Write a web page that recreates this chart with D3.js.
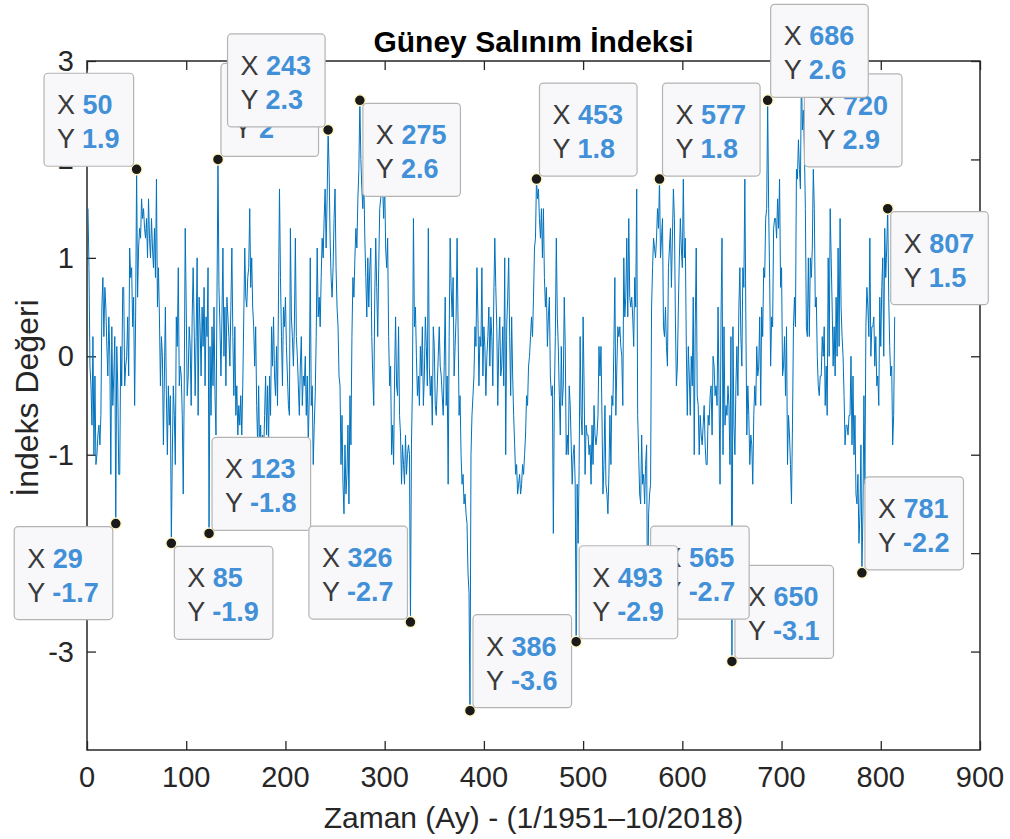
<!DOCTYPE html>
<html>
<head>
<meta charset="utf-8">
<script src="https://cdn.jsdelivr.net/npm/d3@7"></script>
<style>
  body { margin: 0; background: #fff; }
  svg { display: block; font-family: "Liberation Sans", Arial, Helvetica, sans-serif; }
</style>
</head>
<body>
<div id="chart"></div>
<script>
// monthly SOI values, 1/1951 .. 10/2018 (x = 1..814)
var soi = [
  1.5, 0.9, -0.1, -0.3, -0.7, 0.2, -1.0, -0.2, -1.1, -1.0, -0.8, -0.7,   // 1951
  -0.9, -0.6, 0.5, 0.8, 0.2, 0.7, 0.5, 0.1, -0.2, 0.4, 0.0, -1.2,        // 1952
  0.3, -0.5, -0.2, 0.2, -1.7, 0.1, -0.3, -1.2, -1.2, 0.1, -0.3, 0.7,     // 1953
  0.7, -0.3, -0.1, 0.0, 0.4, -0.2, 1.1, 0.8, 0.9, 0.3, 0.6, -0.5,        // 1954
  0.4, 1.9, 0.6, 1.1, 1.3, 1.2, 1.6, 1.4, 1.5, 1.3, 1.2, 1.4,            // 1955
  1.0, 1.6, 1.2, 1.0, 1.4, 1.1, 0.9, 1.3, 0.8, 1.8, 0.5, 0.9,            // 1956
  0.4, -0.3, 0.2, 0.0, -0.9, -0.2, 0.5, -0.4, -1.0, -0.3, -0.7, -0.4,    // 1957
  -1.9, -1.0, -0.3, -0.6, -1.1, 0.4, 0.1, 0.9, -0.3, -0.1, -0.2, -0.6,   // 1958
  -1.4, -0.3, 1.3, 0.5, -0.4, -0.2, 0.3, 0.1, -0.5, 0.4, 0.9, 0.3,       // 1959
  -0.4, 0.2, 1.0, -0.6, 0.6, 0.3, -0.2, 0.5, 0.1, 0.7, -0.3, 0.4,        // 1960
  0.2, 0.9, -1.8, 0.1, -0.6, 0.3, -0.3, 0.5, -0.4, -0.8, 0.6, 2.0,       // 1961
  0.7, 0.3, -0.2, 0.4, 1.1, 0.0, 0.5, -0.3, 0.6, 0.4, 0.2, -0.1,         // 1962
  0.5, 1.1, 0.2, -0.4, 0.3, -0.6, -0.3, -0.8, -0.5, -0.7, -0.4, -0.8,    // 1963
  -0.3, 0.4, 1.1, 0.6, 0.5, 0.8, 0.9, 1.5, 0.7, 1.0, 0.5, 0.3,           // 1964
  -0.1, 0.3, -0.5, -0.9, -0.3, -1.0, -0.7, -1.1, -0.8, -1.0, -0.6, -0.2, // 1965
  -0.8, -0.3, -0.9, -0.2, -0.6, 0.3, -0.1, 0.4, -0.2, -0.4, 0.1, -0.5,   // 1966
  0.6, 1.7, 0.8, 0.2, -0.3, 0.5, 0.3, 0.6, 0.1, -0.2, -0.5, -0.6,        // 1967
  1.3, 0.4, 0.2, -0.1, 0.3, 1.2, 0.2, 0.0, -0.3, -0.6, -0.1, 0.2,        // 1968
  -0.5, -0.2, -0.3, 0.0, -0.6, -0.2, -0.9, -0.4, 1.0, -0.5, -0.3, -1.1,  // 1969
  -0.7, -0.4, 0.2, 1.1, 0.4, 0.6, 0.3, 0.8, 1.2, 1.0, 1.4, 1.7,          // 1970
  1.1, 1.6, 2.3, 1.9, 1.2, 0.8, 0.6, 0.9, 1.4, 1.7, 0.9, 0.5,            // 1971
  0.3, -0.2, -0.3, -1.1, -0.6, -1.3, -1.6, -0.9, -1.4, -1.2, -0.7, -1.5, // 1972
  -0.4, -0.9, 0.2, 0.8, 0.6, 1.0, 1.3, 1.1, 1.6, 1.9, 2.6, 2.0,          // 1973
  1.7, 1.5, 1.8, 1.2, 0.8, 0.4, 1.0, 0.5, 0.9, 1.1, 0.2, -0.2,           // 1974
  -0.5, 0.6, 1.2, 0.7, 0.2, 0.9, 1.5, 1.6, 1.9, 1.7, 1.4, 1.8,           // 1975
  1.1, 0.9, 1.2, 0.2, -0.3, -0.1, -1.0, -0.7, -1.1, -0.2, 0.4, -0.3,     // 1976
  -0.4, 0.3, -0.6, -0.8, -1.3, -0.9, -1.1, -1.3, -0.8, -1.2, -1.0, -0.9, // 1977
  -1.0, -2.7, -0.9, -0.3, 1.4, 0.3, 0.5, 0.0, -0.4, -0.2, -0.5, 0.1,     // 1978
  -0.2, 0.3, -0.5, -0.2, 0.4, 0.1, -0.3, 1.3, -0.1, -0.4, -0.2, -0.7,    // 1979
  0.3, 0.1, -0.5, -0.6, -0.3, 0.0, 0.3, -0.1, -0.2, -0.4, -0.6, -0.1,    // 1980
  0.6, -0.5, -0.2, -1.3, 0.2, 1.2, 0.7, 0.4, 0.8, -0.2, 0.1, 0.4,        // 1981
  1.2, 0.3, -0.6, -0.4, -1.0, -1.3, -1.2, -1.5, -1.4, -1.6, -1.7, -2.2,  // 1982
  -2.4, -3.6, -1.0, -0.6, -0.4, -0.2, 0.3, 0.1, 0.9, 0.4, -0.3, 0.2,     // 1983
  0.1, 0.9, -0.2, 0.3, 0.1, -0.4, 0.0, 0.2, 0.5, -0.1, 0.4, 0.2,         // 1984
  -0.3, 0.6, 1.2, 0.7, 0.3, -0.5, 0.1, 0.4, -0.2, -0.1, 0.3, -0.3,       // 1985
  1.0, -1.0, 0.3, 0.6, 1.0, 0.2, -0.4, 0.4, -0.2, -0.6, -0.9, -1.2,      // 1986
  -1.1, -1.4, -1.3, -1.2, -1.4, -1.3, -1.1, -1.2, -1.0, -0.8, -0.4, -0.5,// 1987
  -0.1, 0.0, 0.2, 0.4, 0.2, 0.6, 1.1, 1.2, 1.8, 1.6, 1.7, 1.4,           // 1988
  1.2, 1.5, 1.0, 1.5, 0.8, 0.5, 0.7, 0.1, 0.4, 0.6, -0.2, -0.4,          // 1989
  -0.3, -1.8, -0.4, 0.2, 1.2, 0.4, 0.1, -0.4, -0.8, 0.1, -0.5, -0.3,     // 1990
  0.6, 0.1, -1.0, -0.8, -1.0, -0.3, -0.5, -0.9, -1.3, -1.0, -0.9, -1.3,  // 1991
  -2.9, -1.3, -1.9, -1.1, 0.2, -0.6, -0.8, 0.4, -0.3, -1.2, -0.7, -0.8,  // 1992
  -0.8, -1.0, -0.9, -1.3, -0.7, -1.1, -0.5, -0.8, -0.9, -0.8, -0.6, 0.1, // 1993
  -0.2, 0.1, -0.6, -1.4, -1.1, -0.5, -1.3, -1.4, -1.6, -1.2, -0.6, -1.1, // 1994
  -0.4, -0.5, 0.1, 0.8, -0.6, -0.1, 0.3, 0.2, 0.3, 0.1, 0.0, -0.5,       // 1995
  1.0, 0.4, 0.6, 1.2, 0.4, 1.4, 0.6, 0.5, 0.6, 0.4, 0.1, 0.8,            // 1996
  0.5, 1.7, -0.6, -1.0, -1.4, -1.5, -0.8, -1.3, -1.2, -1.5, -1.1, -0.9,  // 1997
  -2.7, -1.6, -1.4, -1.3, 0.5, 0.9, 1.2, 1.1, 1.0, 1.2, 1.5, 1.3,        // 1998
  1.8, 1.0, 1.2, 1.4, 0.3, 0.2, 0.5, 0.1, -0.1, 0.9, 1.1, 1.3,           // 1999
  0.7, 1.2, 1.7, 1.4, 0.4, -0.3, -0.1, 0.5, 1.0, 1.4, 1.1, 0.9,          // 2000
  1.8, 1.0, 1.2, 0.1, -0.6, 0.1, -0.2, -0.6, 0.0, -0.3, 0.6, -1.0,       // 2001
  0.3, 1.1, -0.4, -0.5, -1.0, -0.6, -0.8, -0.9, -0.7, -0.5, -0.9, -1.1,  // 2002
  -1.1, -0.6, -0.7, -0.4, -0.3, -0.8, 0.0, -0.1, -0.4, -0.3, -0.5, 0.5,  // 2003
  -0.4, -1.3, 0.4, 1.2, -1.0, 0.3, -0.7, -0.5, -0.6, -0.3, -0.5, -1.1,   // 2004
  0.2, -3.1, 0.3, -0.7, -1.0, -0.3, 0.1, -0.4, 0.5, 0.9, 0.2, -0.1,      // 2005
  0.9, 0.7, 1.8, 0.4, -0.8, -0.3, -0.6, -1.1, -0.8, -0.9, -1.3, -0.6,    // 2006
  -0.3, -0.5, 0.1, -0.2, -0.1, 0.4, -0.5, 0.5, 0.2, 0.9, 0.8, 1.4,       // 2007
  1.5, 2.6, 1.5, 0.8, -0.1, 0.4, 0.3, 1.3, 1.4, 1.4, 1.2, 1.6,           // 2008
  1.3, 1.8, 0.7, 0.9, -0.2, -0.1, 0.2, -0.4, 0.3, -1.1, -0.6, -0.8,      // 2009
  -1.1, -1.5, -0.7, 0.3, 0.6, 0.3, 1.9, 1.8, 2.2, 1.9, 1.7, 2.9,         // 2010
  2.3, 2.5, 2.1, 1.5, 0.3, 0.2, 1.0, 0.2, 1.0, 0.8, 1.1, 1.9,            // 2011
  1.5, 0.5, 0.6, 0.0, -0.3, -0.4, -0.2, -0.2, 0.2, 0.0, 0.3, -0.5,       // 2012
  -0.1, -0.6, 1.0, 0.0, 1.5, 1.0, 0.5, -0.1, 0.3, -0.2, 0.6, 0.0,        // 2013
  1.1, 0.1, 1.4, 0.5, 0.2, 0.0, -0.4, -0.9, -0.7, -0.7, -0.8, -0.6,      // 2014
  -0.6, 0.0, -0.9, -0.2, -1.0, -0.6, -1.4, -1.5, -1.2, -1.9, -1.6, -0.9, // 2015
  -2.2, -1.6, -0.4, -1.3, 0.3, 0.7, 0.5, 0.2, 1.2, 0.0, 0.3, 0.3,        // 2016
  0.4, -0.1, 0.2, -0.3, -0.2, -0.5, 0.6, 0.1, 0.7, 1.0, 0.0, 1.3,        // 2017
  0.8, 1.1, 1.5, 0.6, 0.1, -0.2, -0.1, -0.9, -0.6, 0.4                   // 2018
];

// data tips: month index and which side of the point the box sits on
var tipX    = [29, 50, 85, 123, 132, 243, 275, 326, 386, 453, 577, 650, 565, 493, 720, 686, 781, 807];
var tipSide = ['sw','nw','se','ne','ne','nw','se','nw','ne','ne','ne','ne','ne','ne','se','ne','ne','se'];

var xTicks = [0, 100, 200, 300, 400, 500, 600, 700, 800, 900];
var yTicks = [-3, -2, -1, 0, 1, 2, 3];

var W = 1010, H = 839;
var L = 87, R = 980, T = 61, B = 750;

var svg = d3.select('#chart').append('svg')
  .attr('width', W)
  .attr('height', H);

var x = d3.scaleLinear().domain([0, 900]).range([L, R]);
var y = d3.scaleLinear().domain([-4, 3]).range([B, T]);

var axisColor = '#262626';
var tickLen = 9;

// axes with inward ticks on all four sides (matlab box style)
svg.append('g').attr('transform', 'translate(0,' + B + ')')
  .call(d3.axisTop(x).tickValues(xTicks).tickSize(tickLen).tickFormat(''));
svg.append('g').attr('transform', 'translate(0,' + T + ')')
  .call(d3.axisBottom(x).tickValues(xTicks).tickSize(tickLen).tickFormat(''));
svg.append('g').attr('transform', 'translate(' + L + ',0)')
  .call(d3.axisRight(y).tickValues(yTicks).tickSize(tickLen).tickFormat(''));
svg.append('g').attr('transform', 'translate(' + R + ',0)')
  .call(d3.axisLeft(y).tickValues(yTicks).tickSize(tickLen).tickFormat(''));
svg.selectAll('.domain').remove();
svg.selectAll('.tick line').attr('stroke', axisColor).attr('stroke-width', 1.3);

svg.append('rect')
  .attr('x', L).attr('y', T)
  .attr('width', R - L).attr('height', B - T)
  .attr('fill', 'none')
  .attr('stroke', axisColor)
  .attr('stroke-width', 1.5);

// tick labels
svg.append('g').selectAll('text')
  .data(xTicks)
  .enter().append('text')
  .attr('x', d => x(d))
  .attr('y', 787)
  .attr('text-anchor', 'middle')
  .attr('font-size', 29)
  .attr('fill', axisColor)
  .text(d => d);

svg.append('g').selectAll('text')
  .data(yTicks)
  .enter().append('text')
  .attr('x', 74)
  .attr('y', d => y(d) + 10)
  .attr('text-anchor', 'end')
  .attr('font-size', 29)
  .attr('fill', axisColor)
  .text(d => d);

// titles
svg.append('text')
  .attr('x', (L + R) / 2)
  .attr('y', 52)
  .attr('text-anchor', 'middle')
  .attr('font-size', 30)
  .attr('font-weight', 'bold')
  .attr('fill', '#000')
  .text('Güney Salınım İndeksi');

svg.append('text')
  .attr('x', (L + R) / 2)
  .attr('y', 828)
  .attr('text-anchor', 'middle')
  .attr('font-size', 30)
  .attr('fill', axisColor)
  .text('Zaman (Ay) - (1/1951\u201310/2018)');

svg.append('text')
  .attr('transform', 'translate(38,398) rotate(-90)')
  .attr('text-anchor', 'middle')
  .attr('font-size', 32)
  .attr('fill', axisColor)
  .text('İndeks Değeri');

// the series
var line = d3.line()
  .x((d, i) => x(i + 1))
  .y(d => y(d));

svg.append('path')
  .datum(soi)
  .attr('d', line)
  .attr('fill', 'none')
  .attr('stroke', '#0072BD')
  .attr('stroke-width', 1);

// data tips
var boxH = 93, pad = 13, gap = 3;

tipX.forEach(function(tx, i) {
  var v = soi[tx - 1];
  var px = x(tx), py = y(v);
  var g = svg.append('g');

  g.append('circle')
    .attr('cx', px).attr('cy', py).attr('r', 5.5)
    .attr('fill', '#1a1a1a')
    .attr('stroke', '#fff6c8')
    .attr('stroke-width', 1.5);

  var rect = g.append('rect')
    .attr('rx', 4).attr('ry', 4)
    .attr('fill', '#f8f8fa')
    .attr('stroke', '#b4b4b4')
    .attr('stroke-width', 1.2);

  var rows = [['X ', String(tx)], ['Y ', String(+v.toFixed(1))]];
  var texts = rows.map(function(r) {
    var t = g.append('text').attr('font-size', 27);
    t.append('tspan').attr('fill', '#3a3a3a').text(r[0]);
    t.append('tspan').attr('fill', '#4190d8').attr('font-weight', 'bold').text(r[1]);
    return t;
  });
  var tw = d3.max(texts, t => t.node().getComputedTextLength());
  var bw = tw + pad * 2 + 1;

  var side = tipSide[i];
  var bx = side[1] === 'e' ? px + gap : px - gap - bw;
  var by = side[0] === 'n' ? py - gap - boxH : py + gap;

  rect.attr('x', bx).attr('y', by).attr('width', bw).attr('height', boxH);
  texts[0].attr('x', bx + pad).attr('y', by + 41);
  texts[1].attr('x', bx + pad).attr('y', by + 75);
});
</script>
</body>
</html>
